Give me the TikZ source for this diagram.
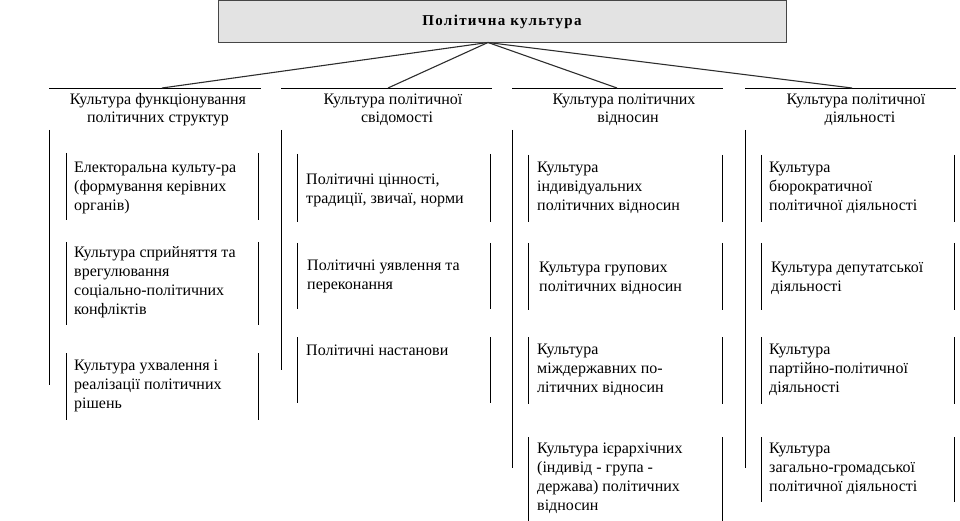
\documentclass[tikz,border=0pt]{standalone}
\usepackage{fontspec}
\setmainfont{Liberation Serif}
\usepackage{xcolor}
\usetikzlibrary{calc, positioning}

\tikzset{
    titlebox/.style={draw=gray!55!black, fill=gray!22, line width=1pt,
        minimum width=568pt, minimum height=42pt, inner sep=0pt,
        font=\fontsize{15}{17}\selectfont\bfseries\addfontfeature{LetterSpace=9}},
    colhead/.style={align=center, inner sep=0pt, font=\fontsize{16}{18}\selectfont},
    itemtext/.style={align=left, anchor=west, inner sep=0pt, font=\fontsize{16}{19}\selectfont},
    rule/.style={line width=0.8pt},
    link/.style={line width=1.1pt, draw=gray!35!black}
}

\begin{document}
\begin{tikzpicture}[x=1pt, y=-1pt]

    \useasboundingbox (0,0) rectangle (960,521);

    % =================================================================
    % 1. KHỐI TIÊU ĐỀ
    % =================================================================
    \node[titlebox] (top) at (502, 21.5) {Політична культура};
    \coordinate (hub) at (488, 42.5);

    % =================================================================
    % 2. TIÊU ĐỀ CÁC CỘT
    % =================================================================
    \draw[rule] (49, 88) coordinate (h1l) -- (261, 88) coordinate (h1r);
    \draw[rule] (281, 88) coordinate (h2l) -- (492, 88) coordinate (h2r);
    \draw[rule] (512, 88) coordinate (h3l) -- (723, 88) coordinate (h3r);
    \draw[rule] (745, 88) coordinate (h4l) -- (956, 88) coordinate (h4r);

    \coordinate (e1) at (162, 88);
    \coordinate (e2) at (388, 88);
    \coordinate (e3) at (617, 88);
    \coordinate (e4) at (852, 88);

    \draw[link] (hub) -- (e1);
    \draw[link] (hub) -- (e2);
    \draw[link] (hub) -- (e3);
    \draw[link] (hub) -- (e4);

    \node[colhead] (h1) at (158, 110) {Культура функціонування\\політичних структур};
    \node[colhead] (h2) at (393, 110) {Культура політичної\\\hspace*{8pt}свідомості};
    \node[colhead] (h3) at (624, 110) {Культура політичних\\\hspace*{8pt}відносин};
    \node[colhead] (h4) at (856, 110) {Культура політичної\\\hspace*{8pt}діяльності};

    % =================================================================
    % 3. ĐƯỜNG DỌC CỦA CÁC CỘT
    % =================================================================
    \draw[rule] (49, 130) -- (49, 385);
    \draw[rule] (281, 130) -- (281, 370);
    \draw[rule] (512, 130) -- (512, 468);
    \draw[rule] (745, 130) -- (745, 468);

    % =================================================================
    % 4. CỘT 1
    % =================================================================
    \draw[rule] (66, 153) -- (66, 220);  \draw[rule] (258, 153) -- (258, 220);
    \draw[rule] (66, 242) -- (66, 325);  \draw[rule] (258, 242) -- (258, 325);
    \draw[rule] (66, 353) -- (66, 420);  \draw[rule] (258, 353) -- (258, 420);

    \node[itemtext] (a1) at (74, 188) {Електоральна культу-ра\\(формування керівних\\органів)};
    \node[itemtext] (a2) at (74, 282.5) {Культура сприйняття та\\врегулювання\\соціально-політичних\\конфліктів};
    \node[itemtext] (a3) at (74, 385.5) {Культура ухвалення і\\реалізації політичних\\рішень};

    % =================================================================
    % 5. CỘT 2
    % =================================================================
    \draw[rule] (297, 154) -- (297, 222);  \draw[rule] (490, 154) -- (490, 222);
    \draw[rule] (297, 243) -- (297, 309);  \draw[rule] (490, 243) -- (490, 309);
    \draw[rule] (297, 337) -- (297, 403);  \draw[rule] (490, 337) -- (490, 403);

    \node[itemtext] (b1) at (306, 190) {Політичні цінності,\\традиції, звичаї, норми};
    \node[itemtext] (b2) at (307, 276.5) {Політичні уявлення та\\переконання};
    \node[itemtext] (b3) at (306, 350.5) {Політичні настанови};

    % =================================================================
    % 6. CỘT 3
    % =================================================================
    \draw[rule] (528, 155) -- (528, 222);  \draw[rule] (722, 155) -- (722, 222);
    \draw[rule] (528, 243) -- (528, 310);  \draw[rule] (722, 243) -- (722, 310);
    \draw[rule] (528, 337) -- (528, 404);  \draw[rule] (722, 337) -- (722, 404);
    \draw[rule] (528, 437) -- (528, 521);  \draw[rule] (722, 437) -- (722, 521);

    \node[itemtext] (c1) at (537, 187.5) {Культура\\індивідуальних\\політичних відносин};
    \node[itemtext] (c2) at (539, 278.5) {Культура групових\\політичних відносин};
    \node[itemtext] (c3) at (537, 370) {Культура\\міждержавних по-\\літичних відносин};
    \node[itemtext] (c4) at (537, 478) {Культура ієрархічних\\(індивід - група -\\держава) політичних\\відносин};

    % =================================================================
    % 7. CỘT 4
    % =================================================================
    \draw[rule] (761, 155) -- (761, 222);  \draw[rule] (954, 155) -- (954, 222);
    \draw[rule] (761, 243) -- (761, 310);  \draw[rule] (954, 243) -- (954, 310);
    \draw[rule] (761, 337) -- (761, 404);  \draw[rule] (954, 337) -- (954, 404);
    \draw[rule] (761, 437) -- (761, 502);  \draw[rule] (954, 437) -- (954, 502);

    \node[itemtext] (d1) at (769, 187.5) {Культура\\бюрократичної\\політичної діяльності};
    \node[itemtext] (d2) at (771, 278.5) {Культура депутатської\\діяльності};
    \node[itemtext] (d3) at (769, 370) {Культура\\партійно-політичної\\діяльності};
    \node[itemtext] (d4) at (769, 468.5) {Культура\\загально-громадської\\політичної діяльності};

\end{tikzpicture}
\end{document}
